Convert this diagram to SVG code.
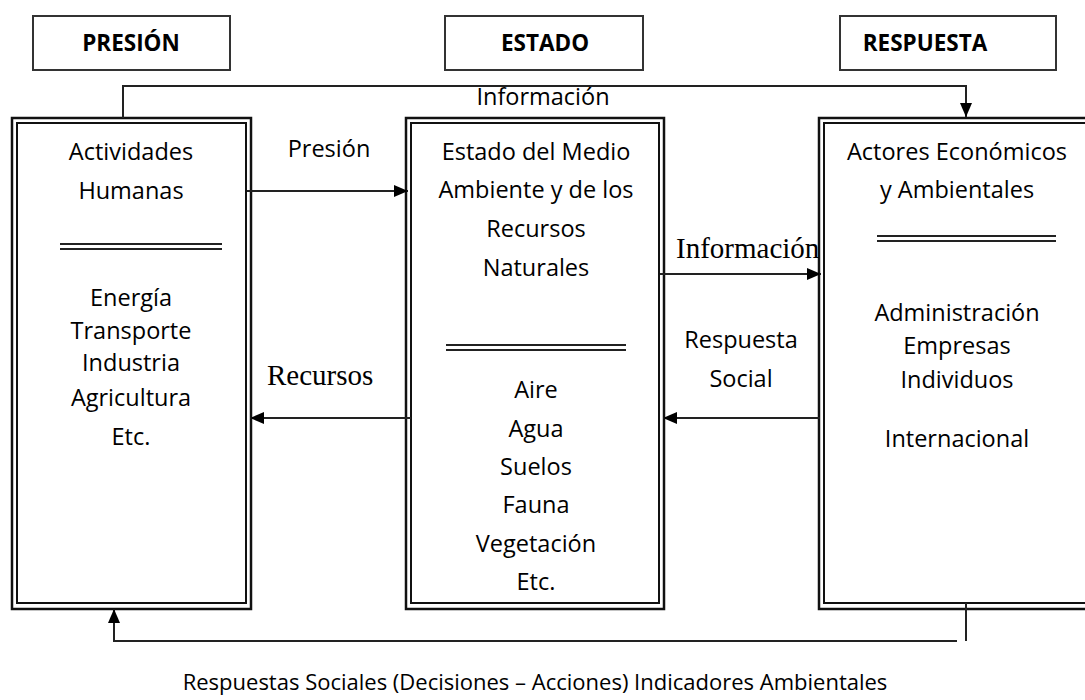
<svg xmlns="http://www.w3.org/2000/svg" width="1085" height="700" viewBox="0 0 1085 700">
<style>
.hdr{fill:#fff;stroke:#333;stroke-width:2}
.ht{font-family:"Open Sans",sans-serif;font-weight:bold;font-size:22.5px;fill:#000;text-anchor:middle}
.bo{fill:none;stroke:#111;stroke-width:2.5}
.bi{fill:none;stroke:#111;stroke-width:2}
.t{font-family:"Open Sans",sans-serif;font-size:23.5px;fill:#000;text-anchor:middle}
.b{font-family:"Open Sans",sans-serif;font-size:22px;fill:#000;text-anchor:middle}
.s{font-family:"Liberation Serif",serif;font-size:29px;fill:#000}
.ln{fill:none;stroke:#222;stroke-width:2}
.sep{stroke:#222;stroke-width:2}
</style>
<defs>
<marker id="ah" markerWidth="14" markerHeight="12" refX="14" refY="6" orient="auto" markerUnits="userSpaceOnUse">
<path d="M0,0 L14,6 L0,12 Z" fill="#000"/>
</marker>
</defs>
<rect width="1085" height="700" fill="#fff"/>
<g id="h-presion"><rect class="hdr" x="33" y="16" width="197" height="54"/><text class="ht" x="131" y="51">PRESIÓN</text></g>
<g id="h-estado"><rect class="hdr" x="445" y="16" width="198" height="54"/><text class="ht" x="545" y="51">ESTADO</text></g>
<g id="h-respuesta"><rect class="hdr" x="840" y="16" width="216" height="54"/><text class="ht" x="925" y="51">RESPUESTA</text></g>

<g id="n-actividades">
<rect class="bo" x="12" y="118" width="239" height="491"/>
<rect class="bi" x="17" y="123" width="229" height="480"/>
<text class="t" x="131" y="160">Actividades</text>
<text class="t" x="131" y="199">Humanas</text>
<line class="sep" x1="60" y1="244" x2="222" y2="244"/>
<line class="sep" x1="60" y1="249" x2="222" y2="249"/>
<text class="t" x="131" y="306">Energía</text>
<text class="t" x="131" y="339">Transporte</text>
<text class="t" x="131" y="371">Industria</text>
<text class="t" x="131" y="406">Agricultura</text>
<text class="t" x="131" y="445">Etc.</text>
</g>

<g id="n-estado">
<rect class="bo" x="406" y="118" width="258" height="491"/>
<rect class="bi" x="411" y="123" width="248" height="480"/>
<text class="t" x="536" y="160">Estado del Medio</text>
<text class="t" x="536" y="198">Ambiente y de los</text>
<text class="t" x="536" y="237">Recursos</text>
<text class="t" x="536" y="276">Naturales</text>
<line class="sep" x1="446" y1="345" x2="626" y2="345"/>
<line class="sep" x1="446" y1="350" x2="626" y2="350"/>
<text class="t" x="536" y="398">Aire</text>
<text class="t" x="536" y="437">Agua</text>
<text class="t" x="536" y="475">Suelos</text>
<text class="t" x="536" y="513">Fauna</text>
<text class="t" x="536" y="552">Vegetación</text>
<text class="t" x="536" y="590">Etc.</text>
</g>

<g id="n-actores">
<rect class="bo" x="819" y="118" width="300" height="491"/>
<rect class="bi" x="824" y="123" width="290" height="480"/>
<text class="t" x="957" y="160">Actores Económicos</text>
<text class="t" x="957" y="198">y Ambientales</text>
<line class="sep" x1="877" y1="236" x2="1056" y2="236"/>
<line class="sep" x1="877" y1="241" x2="1056" y2="241"/>
<text class="t" x="957" y="321">Administración</text>
<text class="t" x="957" y="354">Empresas</text>
<text class="t" x="957" y="388">Individuos</text>
<text class="t" x="957" y="447">Internacional</text>
</g>

<g id="connectors">
<polyline class="ln" points="123,118 123,86 966,86 966,117" marker-end="url(#ah)"/>
<line class="ln" x1="247" y1="191" x2="408" y2="191" marker-end="url(#ah)"/>
<line class="ln" x1="411" y1="418" x2="250" y2="418" marker-end="url(#ah)"/>
<line class="ln" x1="660" y1="274" x2="821" y2="274" marker-end="url(#ah)"/>
<line class="ln" x1="820" y1="418" x2="663" y2="418" marker-end="url(#ah)"/>
<line class="ln" x1="966" y1="603" x2="966" y2="641"/>
<polyline class="ln" points="957,641 114,641 114,609" marker-end="url(#ah)"/>
<text class="t" x="329" y="157">Presión</text>
<text class="t" x="543" y="105">Información</text>
<text class="s" x="676" y="258">Información</text>
<text class="s" x="267" y="385">Recursos</text>
<text class="t" x="741" y="348">Respuesta</text>
<text class="t" x="741" y="387">Social</text>
<text class="b" x="535" y="690">Respuestas Sociales (Decisiones – Acciones) Indicadores Ambientales</text>
</g>
</svg>
